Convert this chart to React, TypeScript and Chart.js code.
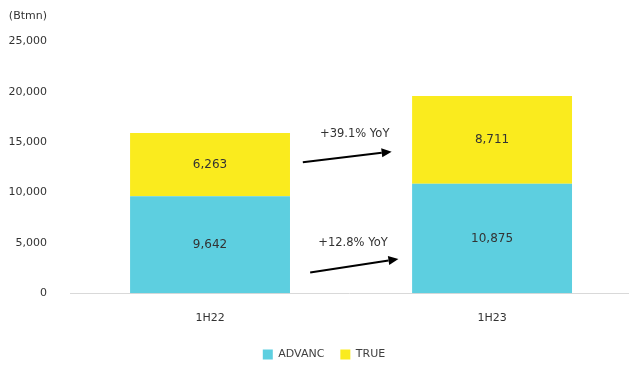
import React, { useEffect, useRef } from "react";
import { Chart, registerables } from "chart.js";

Chart.register(...registerables);

const categories = ["1H22", "1H23"];
const advancValues = [9642, 10875];
const trueValues = [6263, 8711];
const yTicks = [0, 5000, 10000, 15000, 20000, 25000];
const unitLabel = "(Btmn)";

// growth annotations, in data coordinates (x: category units, y: value)
const annotations = [
  { text: "+39.1% YoY", tx: 0.513, ty: 15855, x1: 0.329, y1: 13002, x2: 0.644, y2: 14066 },
  { text: "+12.8% YoY", tx: 0.507, ty: 4950, x1: 0.355, y1: 2068, x2: 0.668, y2: 3400 },
];

const FONT = "'DejaVu Sans', sans-serif";
const TEXT = "#333333";

const fmt = (v: number) => v.toLocaleString("en-US");

const legendShift = {
  id: "legendShift",
  afterLayout(chart: any) {
    if (chart.legend) {
      chart.legend.left += 10;
      chart.legend.right += 10;
    }
  },
};

const labelsPlugin = {
  id: "customLabels",
  afterDatasetsDraw(chart: any) {
    const ctx = chart.ctx;
    ctx.save();
    ctx.font = `12px ${FONT}`;
    ctx.fillStyle = TEXT;
    ctx.textAlign = "center";
    ctx.textBaseline = "middle";
    chart.data.datasets.forEach((ds: any, di: number) => {
      const meta = chart.getDatasetMeta(di);
      meta.data.forEach((el: any, i: number) => {
        const v = ds.data[i].y;
        ctx.fillText(fmt(v), el.x, (el.y + el.base) / 2);
      });
    });
    const xs = chart.scales.x;
    const ys = chart.scales.y;
    annotations.forEach((a) => {
      ctx.fillStyle = TEXT;
      ctx.font = `11.5px ${FONT}`;
      ctx.fillText(a.text, xs.getPixelForValue(a.tx), ys.getPixelForValue(a.ty));
      const px1 = xs.getPixelForValue(a.x1);
      const py1 = ys.getPixelForValue(a.y1);
      const px2 = xs.getPixelForValue(a.x2);
      const py2 = ys.getPixelForValue(a.y2);
      const ang = Math.atan2(py2 - py1, px2 - px1);
      const hl = 10;
      const bx = px2 - hl * Math.cos(ang);
      const by = py2 - hl * Math.sin(ang);
      ctx.strokeStyle = "#000";
      ctx.lineWidth = 2;
      ctx.beginPath();
      ctx.moveTo(px1, py1);
      ctx.lineTo(bx, by);
      ctx.stroke();
      ctx.fillStyle = "#000";
      ctx.beginPath();
      ctx.moveTo(px2, py2);
      ctx.lineTo(bx + 4.5 * Math.sin(ang), by - 4.5 * Math.cos(ang));
      ctx.lineTo(bx - 4.5 * Math.sin(ang), by + 4.5 * Math.cos(ang));
      ctx.closePath();
      ctx.fill();
    });
    // unit label
    ctx.font = `11px ${FONT}`;
    ctx.fillStyle = TEXT;
    ctx.textAlign = "right";
    ctx.fillText(unitLabel, chart.chartArea.left - 23, 16);
    ctx.restore();
  },
};

export default function App() {
  const ref = useRef<HTMLCanvasElement | null>(null);
  useEffect(() => {
    document.body.style.margin = "0";
    if (!ref.current) return;
    const chart = new Chart(ref.current, {
      type: "bar",
      data: {
        datasets: [
          {
            label: "ADVANC",
            data: advancValues.map((v, i) => ({ x: i, y: v })),
            backgroundColor: "#5DCFE0",
            barPercentage: 0.567,
            categoryPercentage: 1,
          },
          {
            label: "TRUE",
            data: trueValues.map((v, i) => ({ x: i, y: v })),
            backgroundColor: "#FAEB1E",
            barPercentage: 0.567,
            categoryPercentage: 1,
          },
        ],
      },
      options: {
        responsive: false,
        animation: false,
        layout: { padding: { top: 41.5, right: 1, left: 0, bottom: -5 } },
        scales: {
          x: {
            type: "linear",
            stacked: true,
            offset: false,
            bounds: "data",
            min: -0.4965,
            max: 1.482,
            grid: { display: false, drawTicks: false, offset: false },
            border: { display: true, color: "#D9D9D9", width: 1 },
            afterBuildTicks: (s: any) => {
              s.ticks = categories.map((_, i) => ({ value: i }));
            },
            afterDataLimits: (s: any) => {
              s.min = -0.4965;
              s.max = 1.482;
            },
            afterFit: (s: any) => {
              s.height = s.height - 9.5;
            },
            ticks: {
              padding: 18,
              color: TEXT,
              font: { family: FONT, size: 11 },
              callback: (v: any) => categories[Math.round(Number(v))] ?? "",
            },
          },
          y: {
            stacked: true,
            min: 0,
            max: 25000,
            afterBuildTicks: (s: any) => {
              s.ticks = yTicks.map((v) => ({ value: v }));
            },
            afterFit: (s: any) => {
              s.width = 70;
            },
            grid: { display: false, drawTicks: false },
            border: { display: false },
            ticks: {
              padding: 23,
              color: TEXT,
              font: { family: FONT, size: 11 },
              callback: (v: any) => fmt(Number(v)),
            },
          },
        },
        plugins: {
          legend: {
            position: "bottom",
            labels: {
              boxWidth: 10,
              boxHeight: 10,
              padding: 16,
              color: "#404040",
              font: { family: FONT, size: 11 },
            },
          },
          tooltip: { enabled: false },
        },
      },
      plugins: [labelsPlugin, legendShift],
    });
    return () => chart.destroy();
  }, []);
  return <canvas ref={ref} width={629} height={365} />;
}
